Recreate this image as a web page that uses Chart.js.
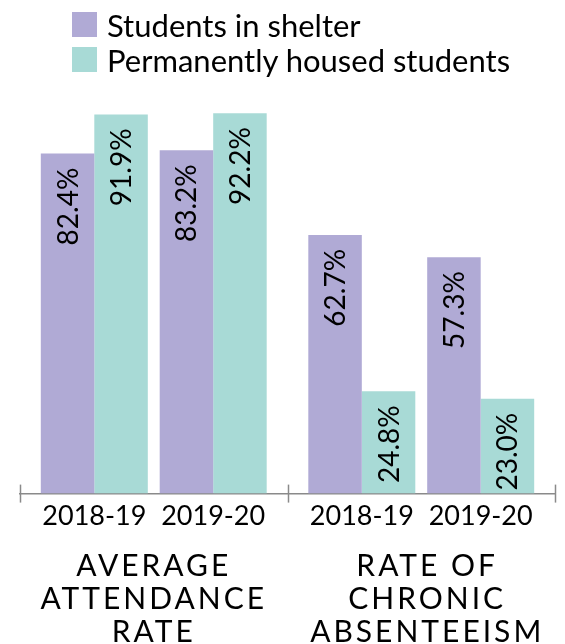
<!DOCTYPE html>
<html>
<head>
<meta charset="utf-8">
<script src="https://cdn.jsdelivr.net/npm/chart.js@4/dist/chart.umd.min.js"></script>
<style>
  html, body { margin: 0; padding: 0; background: #fff; overflow: hidden; }
  #wrap { position: relative; width: 565px; height: 661px; }
  #legend { position: absolute; left: 72px; top: 12px; font-family: Lato, sans-serif; font-size: 31px; color: #000; }
  .item { display: flex; align-items: center; height: 25px; margin-bottom: 10px; }
  .swatch { width: 25px; height: 25px; margin-right: 10px; }
</style>
</head>
<body>
<div id="wrap">
  <canvas id="chart" width="565" height="661"></canvas>
  <div id="legend"></div>
</div>
<script>
// data
const periods = ['2018-19', '2019-20', '2018-19', '2019-20'];
const groupTitles = [['AVERAGE', 'ATTENDANCE', 'RATE'], ['RATE OF', 'CHRONIC', 'ABSENTEEISM']];
const seriesNames = ['Students in shelter', 'Permanently housed students'];
const shelterRates = [82.4, 83.2, 62.7, 57.3];
const housedRates = [91.9, 92.2, 24.8, 23.0];

// layout of the slots along the x axis (two groups of two)
const slotX = [0, 1, 2.25, 3.25];
const groupCenters = [0.5, 2.8];
const groupEdges = [-0.625, 1.625, 3.875];
const colors = ['#b0aad5', '#a8dad6'];

const legend = document.getElementById('legend');
seriesNames.forEach((name, i) => {
    legend.innerHTML += `<div class="item"><span class="swatch" style="background:${colors[i]}"></span>${name}</div>`;
});

// rotated value labels inside the bars
const barLabels = {
    id: 'barLabels',
    afterDatasetsDraw(chart) {
        const ctx = chart.ctx;
        ctx.save();
        ctx.font = '28px Lato';
        ctx.fillStyle = '#000';
        ctx.textAlign = 'right';
        ctx.textBaseline = 'middle';
        chart.data.datasets.forEach((ds, i) => {
            chart.getDatasetMeta(i).data.forEach((bar, j) => {
                ctx.save();
                ctx.translate(bar.x, bar.y + 14);
                ctx.rotate(-Math.PI / 2);
                ctx.fillText(ds.data[j].y.toFixed(1) + '%', 0, 1);
                ctx.restore();
            });
        });
        ctx.restore();
    }
};

// small marks crossing the axis line between the groups
const groupMarks = {
    id: 'groupMarks',
    afterDraw(chart) {
        const ctx = chart.ctx;
        const xs = chart.scales.x;
        const y = chart.chartArea.bottom;
        ctx.save();
        ctx.strokeStyle = '#8a8a8a';
        ctx.lineWidth = 1.5;
        groupEdges.forEach(v => {
            const px = Math.round(xs.getPixelForValue(v)) + 0.5;
            ctx.beginPath();
            ctx.moveTo(px, y - 9);
            ctx.lineTo(px, y + 9);
            ctx.stroke();
        });
        ctx.restore();
    }
};

// spaced capitals for the group titles (drawn before the datasets)
const spacing = {
    id: 'spacing',
    beforeDraw(chart) { chart.ctx.letterSpacing = '3px'; },
    beforeDatasetsDraw(chart) { chart.ctx.letterSpacing = '0px'; }
};

new Chart(document.getElementById('chart'), {
    type: 'bar',
    data: {
        datasets: [
            { label: seriesNames[0], data: shelterRates.map((v, i) => ({ x: slotX[i], y: v })), backgroundColor: colors[0] },
            { label: seriesNames[1], data: housedRates.map((v, i) => ({ x: slotX[i], y: v })), backgroundColor: colors[1] }
        ]
    },
    options: {
        responsive: false,
        animation: false,
        layout: { padding: { top: 81, left: 20, right: 10, bottom: 0 } },
        datasets: { bar: { categoryPercentage: 0.9, barPercentage: 1.0, borderWidth: 0 } },
        plugins: { legend: { display: false }, tooltip: { enabled: false } },
        scales: {
            x: {
                type: 'linear',
                offset: false,
                weight: 0,
                min: -0.625,
                max: 3.875,
                afterBuildTicks: s => { s.ticks = slotX.map(v => ({ value: v })); },
                grid: { display: false, drawTicks: false },
                border: { color: '#8a8a8a', width: 1.5 },
                ticks: {
                    z: 1,
                    autoSkip: false,
                    maxRotation: 0,
                    padding: 6,
                    color: '#000',
                    font: { family: 'Lato', size: 27, lineHeight: 1.2 },
                    callback: (v, i) => periods[i]
                }
            },
            xg: {
                type: 'linear',
                axis: 'x',
                offset: false,
                position: 'bottom',
                weight: 1,
                min: -0.625,
                max: 3.875,
                afterBuildTicks: s => { s.ticks = groupCenters.map(v => ({ value: v })); },
                grid: { display: false, drawTicks: false },
                border: { display: false },
                ticks: {
                    autoSkip: false,
                    maxRotation: 0,
                    padding: 12,
                    color: '#000',
                    font: { family: 'Lato', size: 30, lineHeight: 1.1 },
                    callback: (v, i) => groupTitles[i]
                }
            },
            y: { display: false, min: 0, max: 100 }
        }
    },
    plugins: [barLabels, groupMarks, spacing]
});
</script>
</body>
</html>
